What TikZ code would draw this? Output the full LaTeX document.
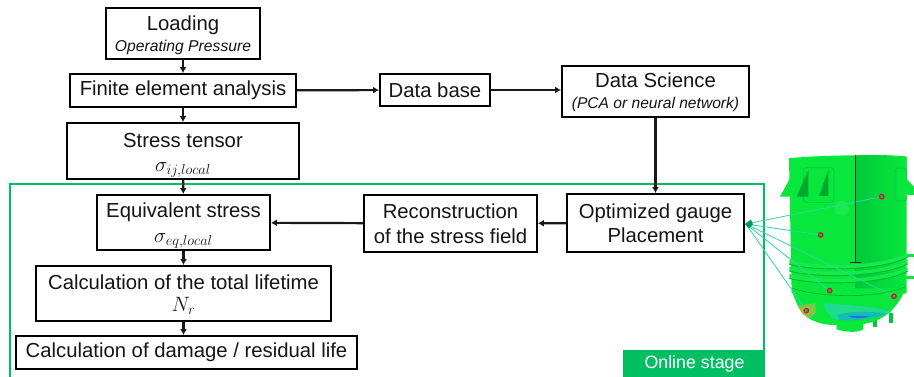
\documentclass[tikz,border=0pt]{standalone}
\usepackage{fontspec}
\setmainfont{Liberation Sans}
\usetikzlibrary{arrows.meta,calc}
\definecolor{frameg}{HTML}{00BF63}
\definecolor{wireg}{HTML}{2FD79C}
\definecolor{bodyL}{HTML}{08E83C}
\definecolor{bodyR}{HTML}{00C83A}
\definecolor{bodyD}{HTML}{00A92E}
\definecolor{rib}{HTML}{00B934}
\definecolor{coldA}{HTML}{1FDC8C}
\definecolor{coldB}{HTML}{12BDB4}
\definecolor{coldC}{HTML}{2A70D8}
\newcommand{\bigf}{\fontsize{20.3}{23.5}\selectfont}
\newcommand{\subf}{\fontsize{15.7}{18}\selectfont\itshape}
\newcommand{\dn}[1]{\rule{0pt}{\dimexpr 14.6pt+2\dimexpr #1\relax\relax}}
\tikzset{
 flowbox/.style={draw=black,line width=1.9pt,fill=white,inner sep=0pt,align=center,font=\bigf,text=black!92},
 flowarrow/.style={draw=black!90,line width=2.2pt,-{Latex[length=6pt,width=7pt]}},
 wire/.style={draw=wireg,line width=0.8pt},
 sensor/.style={circle,draw={rgb,255:red,235;green,10;blue,40},line width=1.2pt,fill=bodyD!70!cyan,minimum size=4.5pt,inner sep=0pt},
}
\begin{document}
\begin{tikzpicture}[x=1pt,y=-1pt]
\useasboundingbox[fill=white] (0,0) rectangle (914,377);
% vessel
\begin{scope}[shift={(740,140)},x=0.3333pt,y=-0.3333pt]
 % pipes
 \fill[bodyL] (495,343) rectangle (522,352);
 \fill[bodyL] (495,408) rectangle (522,418);
 \fill[bodyR] (400,530) rectangle (412,560);
 \fill[bodyR] (447,520) rectangle (459,548);
 % body
 \fill[bodyL] (147,55) .. controls (250,44) and (420,44) .. (500,50) -- (500,460) -- (155,460) -- cycle;
 \shade[left color=bodyR,right color=bodyL] (347,46) .. controls (420,44) and (470,46) .. (500,50) -- (496,460) -- (347,460) -- cycle;
 \fill[bodyL!93!white] (305,205) circle (22);
 % dome
 \fill[bodyL] (155,445) .. controls (165,490) and (185,525) .. (215,540) .. controls (250,555) and (270,555) .. (290,555) -- (290,568) .. controls (320,578) and (355,578) .. (370,568) -- (370,552) .. controls (420,545) and (470,515) .. (497,445) -- cycle;
 % hot patch
 \fill[yellow!45!bodyL] (172,497) -- (225,490) -- (228,518) -- (208,535) -- (188,522) -- cycle;
 \fill[orange!60!yellow!80!bodyL] (182,505) -- (203,500) -- (208,526) -- (196,520) -- cycle;
 % cold patch
 \fill[coldA] (250,490) .. controls (320,495) and (400,498) .. (455,515) .. controls (420,535) and (340,545) .. (285,538) .. controls (265,525) and (255,510) .. (250,490) -- cycle;
 \fill[coldB] (290,525) .. controls (330,512) and (400,515) .. (440,520) .. controls (410,535) and (340,545) .. (300,540) -- cycle;
 \fill[coldC] (325,530) .. controls (345,526) and (375,527) .. (388,530) .. controls (370,536) and (345,536) .. (325,530) -- cycle;
 % ribs
 \foreach \yy in {360,380,402}{
  \fill[bodyL!94!white] (148,\yy) .. controls (220,\yy+22) and (420,\yy+22) .. (503,\yy-20) -- (503,\yy-8) .. controls (420,\yy+34) and (220,\yy+34) .. (148,\yy+13) -- cycle;
  \draw[rib,line width=0.9pt] (148,\yy+13) .. controls (220,\yy+34) and (420,\yy+34) .. (503,\yy-8);
 }
 \draw[bodyD,line width=0.6pt] (157,445) .. controls (250,475) and (420,475) .. (497,440);
 % seam
 \draw[black!85,line width=0.6pt] (347,45) -- (347,368);
 \draw[black!85,line width=0.6pt] (330,368) -- (362,368);
 % windows
 \draw[bodyR,line width=0.7pt,rounded corners=3pt] (190,83) rectangle (282,187);
 \fill[bodyD] (170,170) -- (205,90) -- (205,170) -- cycle;
 \fill[bodyD] (237,168) -- (265,90) -- (265,168) -- cycle;
 \fill[bodyL] (120,170) -- (150,115) -- (150,170) -- cycle;
 \draw[bodyR,line width=0.7pt,rounded corners=3pt] (465,85) rectangle (500,183);
 \fill[bodyL] (473,90) -- (522,140) -- (522,165) -- (473,165) -- cycle;
 % sensors
 \node[sensor] (s1) at (425,170) {};
 \node[sensor] (s2) at (242,285) {};
 \node[sensor] (s3) at (269,452) {};
 \node[sensor] (s4) at (462,469) {};
 \node[sensor] (s5) at (199,512) {};
\end{scope}
% frame
\draw[frameg,line width=1.6pt] (10,378) -- (10,184) -- (764,184) -- (764,378);
\node[fill=frameg,text=white,font=\fontsize{17.8}{20}\selectfont,minimum width=141pt,minimum height=27pt,inner sep=0pt] (online) at (693.5,363.5) {\hspace{2pt}Online stage};
% boxes
\node[flowbox,minimum width=154pt,minimum height=51pt] (load) at (183,33.5) {\dn{2pt}Loading\\[-3pt]{\subf Operating Pressure}};
\node[flowbox,minimum width=226pt,minimum height=33pt] (fea) at (183,90.5) {Finite element analysis};
\node[flowbox,minimum width=232pt,minimum height=56pt] (tensor) at (183,151) {\dn{4pt}Stress tensor\\[1pt]$\sigma_{ij,local}$};
\node[flowbox,minimum width=110pt,minimum height=32pt] (db) at (435,90) {Data base};
\node[flowbox,minimum width=187pt,minimum height=51pt] (ds) at (655.5,91.5) {\dn{1pt}Data Science\\[-2pt]{\fontsize{15.6}{17}\selectfont\itshape (PCA or neural network)}};
\node[flowbox,minimum width=173pt,minimum height=55pt] (eq) at (183.5,222.5) {\dn{3pt}Equivalent stress\\[1pt]$\sigma_{eq,local}$};
\node[flowbox,minimum width=173pt,minimum height=57pt] (rec) at (450.5,223.5) {Reconstruction\\[1pt]of the stress field};
\node[flowbox,minimum width=177pt,minimum height=58pt] (opt) at (655.5,223) {Optimized gauge\\[1pt]Placement};
\node[flowbox,minimum width=295pt,minimum height=55pt] (life) at (183.5,293.5) {\dn{1.5pt}Calculation of the total lifetime\\[-1.5pt]$N_r$};
\node[flowbox,minimum width=341pt,minimum height=33pt] (dmg) at (186.5,352.5) {Calculation of damage / residual life};
% arrows
\draw[flowarrow] (load) -- (fea);
\draw[flowarrow] (fea) -- (tensor);
\draw[flowarrow] (tensor) -- (eq);
\draw[flowarrow] (eq) -- (life);
\draw[flowarrow] (life.south) -- (life.south |- dmg.north);
\draw[flowarrow] (fea) -- (db);
\draw[flowarrow] (db.east) -- (ds.west |- db.east);
\draw[flowarrow] (ds) -- (opt);
\draw[flowarrow] (opt) -- (rec);
\draw[flowarrow] (rec) -- (eq);
% sensor wires
\coordinate (hub) at (746,224);
\foreach \s in {s1,s2,s3,s4,s5}{\draw[wire] (hub) -- (\s);}
\fill[frameg!80!black] (opt.east |- hub) -- ++(6,-4.5) -- ++(2,5) -- ++(-4,4) -- cycle;
\end{tikzpicture}
\end{document}
